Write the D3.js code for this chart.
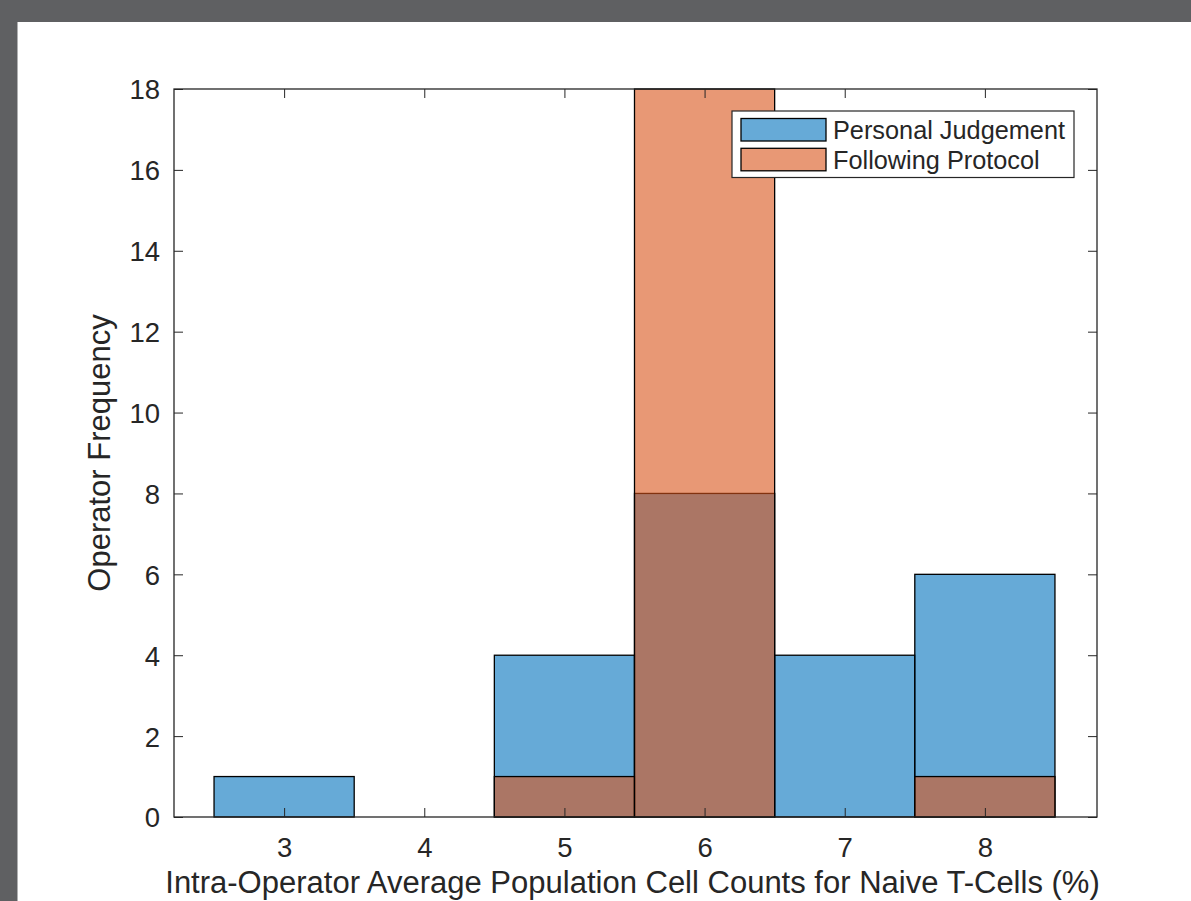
<!DOCTYPE html>
<html>
<head>
<meta charset="utf-8">
<script src="https://cdn.jsdelivr.net/npm/d3@7"></script>
<style>
  html, body { margin: 0; padding: 0; background: #5f6062; }
  svg { display: block; }
  text { font-family: "Liberation Sans", Arial, Helvetica, sans-serif; fill: #262626; }
</style>
</head>
<body>
<script>
// Histogram bin centers and counts for each group
const binCenters = [3, 4, 5, 6, 7, 8];
const personalJudgement = [1, 0, 4, 8, 4, 6];
const followingProtocol = [0, 0, 1, 18, 0, 1];
const seriesNames = ["Personal Judgement", "Following Protocol"];
const xTicks = [3, 4, 5, 6, 7, 8];
const yTicks = [0, 2, 4, 6, 8, 10, 12, 14, 16, 18];
const xLabel = "Intra-Operator Average Population Cell Counts for Naive T-Cells (%)";
const yLabel = "Operator Frequency";

const W = 1191, H = 901;
const box = { left: 174, top: 89, right: 1097, bottom: 817 };
const binWidth = 1;
const colors = ["#0072BD", "#D95319"];
const faceAlpha = 0.6;
const ink = "#262626";
const tickFont = 27.5, labelFont = 31, legendFont = 25.3;

const svg = d3.select("body").append("svg").attr("width", W).attr("height", H);

// window frame and white figure area
svg.append("rect").attr("width", W).attr("height", H).attr("fill", "#5f6062");
svg.append("rect").attr("x", 17.5).attr("y", 22).attr("width", W - 17.5).attr("height", H - 22).attr("fill", "#ffffff");

const x = d3.scaleLinear().domain([2.2143, 8.8]).range([box.left, box.right]);
const y = d3.scaleLinear().domain([0, 18]).range([box.bottom, box.top]);

// bars: first group, then the second group drawn translucent on top
const groups = [personalJudgement, followingProtocol];
groups.forEach((vals, gi) => {
  svg.append("g").selectAll("rect")
    .data(binCenters.map((c, i) => ({ c, v: vals[i] })).filter(d => d.v > 0))
    .join("rect")
    .attr("x", d => x(d.c - binWidth / 2))
    .attr("y", d => y(d.v))
    .attr("width", d => x(d.c + binWidth / 2) - x(d.c - binWidth / 2))
    .attr("height", d => y(0) - y(d.v))
    .attr("fill", colors[gi])
    .attr("fill-opacity", faceAlpha)
    .attr("stroke", "#000")
    .attr("stroke-width", 1.3);
});

// axes: inward ticks on all four sides
const tickLen = 9;
const axBottom = d3.axisBottom(x).tickValues(xTicks).tickSizeInner(-tickLen).tickSizeOuter(0).tickPadding(10).tickFormat(d3.format("d"));
const axTop = d3.axisTop(x).tickValues(xTicks).tickSizeInner(-tickLen).tickSizeOuter(0).tickFormat("");
const axLeft = d3.axisLeft(y).tickValues(yTicks).tickSizeInner(-tickLen).tickSizeOuter(0).tickPadding(14).tickFormat(d3.format("d"));
const axRight = d3.axisRight(y).tickValues(yTicks).tickSizeInner(-tickLen).tickSizeOuter(0).tickFormat("");

function styleAxis(g) {
  g.select(".domain").remove();
  g.selectAll(".tick line").attr("stroke", ink).attr("stroke-width", 1);
  g.selectAll(".tick text").attr("fill", ink).style("font-size", tickFont + "px").attr("font-family", null);
}
svg.append("g").attr("transform", `translate(0,${box.bottom})`).call(axBottom).call(styleAxis)
  .selectAll(".tick text").attr("y", 0).attr("dy", null).attr("transform", "translate(0,39.5)");
svg.append("g").attr("transform", `translate(0,${box.top})`).call(axTop).call(styleAxis);
svg.append("g").attr("transform", `translate(${box.left},0)`).call(axLeft).call(styleAxis)
  .selectAll(".tick text").attr("dy", "0.36em");
svg.append("g").attr("transform", `translate(${box.right},0)`).call(axRight).call(styleAxis);

svg.append("rect")
  .attr("x", box.left).attr("y", box.top)
  .attr("width", box.right - box.left).attr("height", box.bottom - box.top)
  .attr("fill", "none").attr("stroke", ink).attr("stroke-width", 1.3);

// axis titles
svg.append("text").attr("x", (box.left + box.right) / 2 - 3).attr("y", 893)
  .attr("text-anchor", "middle").style("font-size", labelFont + "px").text(xLabel);
svg.append("text").attr("transform", `translate(110,${(box.top + box.bottom) / 2}) rotate(-90)`)
  .attr("text-anchor", "middle").style("font-size", labelFont + "px").text(yLabel);

// legend
const lg = svg.append("g");
lg.append("rect").attr("x", 732).attr("y", 111).attr("width", 342).attr("height", 66.5)
  .attr("fill", "#fff").attr("stroke", ink).attr("stroke-width", 1.2);
seriesNames.forEach((name, i) => {
  const top = 118.5 + i * 29.8;
  lg.append("rect").attr("x", 741).attr("y", top).attr("width", 85).attr("height", 22.5)
    .attr("fill", colors[i]).attr("fill-opacity", faceAlpha).attr("stroke", "#000").attr("stroke-width", 1.3);
  lg.append("text").attr("x", 833).attr("y", top + 20.5).style("font-size", legendFont + "px").text(name);
});
</script>
</body>
</html>
